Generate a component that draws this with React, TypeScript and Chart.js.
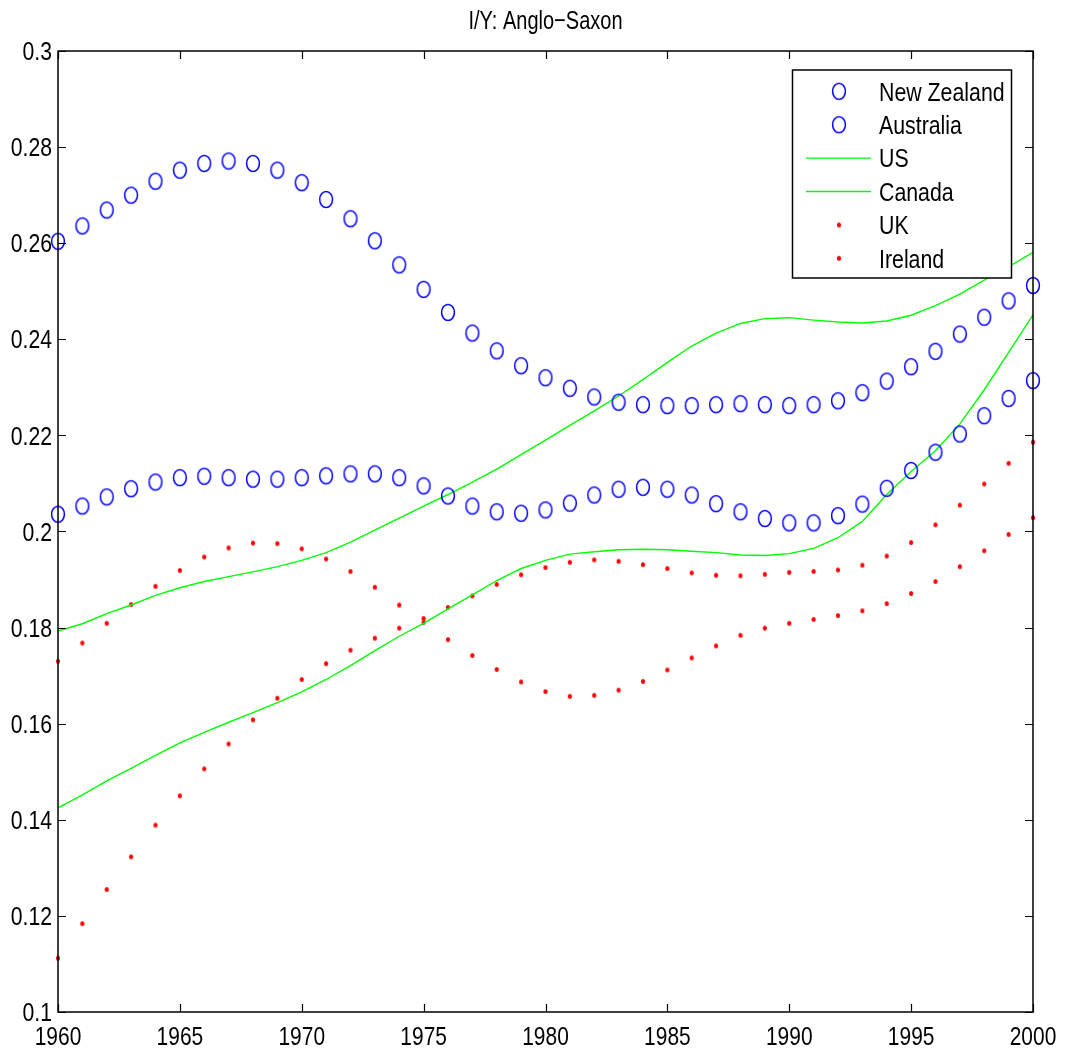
import React, { useEffect, useRef } from "react";
import { Chart, registerables } from "chart.js";

Chart.register(...registerables);

// Investment / output ratios, 1960-2000
const years = [
  1960, 1961, 1962, 1963, 1964, 1965, 1966, 1967, 1968, 1969,
  1970, 1971, 1972, 1973, 1974, 1975, 1976, 1977, 1978, 1979,
  1980, 1981, 1982, 1983, 1984, 1985, 1986, 1987, 1988, 1989,
  1990, 1991, 1992, 1993, 1994, 1995, 1996, 1997, 1998, 1999, 2000,
];

const newZealand = [
  0.2604, 0.2636, 0.2669, 0.27, 0.2729, 0.2752, 0.2766, 0.2771, 0.2766, 0.2752,
  0.2726, 0.2691, 0.2651, 0.2605, 0.2555, 0.2504, 0.2456, 0.2413, 0.2376, 0.2345,
  0.232, 0.2298, 0.228, 0.2269, 0.2264, 0.2262, 0.2262, 0.2264, 0.2266, 0.2264,
  0.2262, 0.2264, 0.2272, 0.2289, 0.2313, 0.2343, 0.2375, 0.2411, 0.2446, 0.248, 0.2512,
];

const australia = [
  0.2036, 0.2053, 0.2072, 0.2089, 0.2103, 0.2112, 0.2115, 0.2112, 0.2109, 0.2109,
  0.2112, 0.2116, 0.212, 0.212, 0.2112, 0.2095, 0.2074, 0.2053, 0.2041, 0.2038,
  0.2045, 0.2059, 0.2076, 0.2088, 0.2092, 0.2088, 0.2076, 0.2058, 0.2041, 0.2027,
  0.2018, 0.2018, 0.2033, 0.2057, 0.209, 0.2127, 0.2165, 0.2203, 0.2241, 0.2277, 0.2314,
];

const us = [
  0.1793, 0.1808, 0.1829, 0.1847, 0.1867, 0.1883, 0.1896, 0.1906, 0.1916, 0.1927,
  0.194, 0.1956, 0.1978, 0.2003, 0.2028, 0.2053, 0.2077, 0.2103, 0.213, 0.216,
  0.219, 0.2221, 0.2251, 0.2282, 0.2316, 0.2352, 0.2386, 0.2413, 0.2433, 0.2443,
  0.2445, 0.244, 0.2436, 0.2434, 0.2438, 0.245, 0.247, 0.2494, 0.2523, 0.2551, 0.2581,
];

const canada = [
  0.1425, 0.1452, 0.1481, 0.1507, 0.1534, 0.156, 0.1582, 0.1603, 0.1623, 0.1644,
  0.1666, 0.1692, 0.1721, 0.1752, 0.1782, 0.1809, 0.1839, 0.1868, 0.1898, 0.1923,
  0.194, 0.1953, 0.1958, 0.1962, 0.1963, 0.1962, 0.1959, 0.1956, 0.1951, 0.195,
  0.1954, 0.1965, 0.1987, 0.2021, 0.2077, 0.2125, 0.2168, 0.2224, 0.2295, 0.2373, 0.2451,
];

const uk = [
  0.173, 0.1768, 0.1809, 0.1848, 0.1886, 0.1919, 0.1947, 0.1966, 0.1976, 0.1975,
  0.1964, 0.1943, 0.1917, 0.1884, 0.1847, 0.1819, 0.1775, 0.1742, 0.1713, 0.1687,
  0.1667, 0.1657, 0.1659, 0.167, 0.1688, 0.1712, 0.1737, 0.1762, 0.1784, 0.1799,
  0.1809, 0.1817, 0.1825, 0.1835, 0.185, 0.1871, 0.1896, 0.1927, 0.196, 0.1994, 0.2029,
];

const ireland = [
  0.1112, 0.1184, 0.1255, 0.1323, 0.1389, 0.145, 0.1506, 0.1558, 0.1608, 0.1653,
  0.1692, 0.1725, 0.1753, 0.1778, 0.1799, 0.1811, 0.1842, 0.1866, 0.189, 0.191,
  0.1925, 0.1936, 0.1941, 0.1938, 0.1931, 0.1923, 0.1914, 0.1909, 0.1908, 0.1911,
  0.1915, 0.1917, 0.192, 0.193, 0.1949, 0.1977, 0.2014, 0.2055, 0.2099, 0.2142, 0.2186,
];

const xTicks = [1960, 1965, 1970, 1975, 1980, 1985, 1990, 1995, 2000];
const xTickLabels = ["1960", "1965", "1970", "1975", "1980", "1985", "1990", "1995", "2000"];
const yTicks = [0.1, 0.12, 0.14, 0.16, 0.18, 0.2, 0.22, 0.24, 0.26, 0.28, 0.3];
const yTickLabels = ["0.1", "0.12", "0.14", "0.16", "0.18", "0.2", "0.22", "0.24", "0.26", "0.28", "0.3"];

const title = "I/Y: Anglo\u2212Saxon";

const FONT = "'Liberation Sans', Arial, Helvetica, sans-serif";
const BLUE = "#0000ff";
const GREEN = "#00ff00";
const RED = "#ff0000";

const toPoints = (values: number[]) => values.map((v, i) => ({ x: years[i], y: v }));

type Kind = "circle" | "line" | "dot";

// Narrow Helvetica look: regular sans compressed horizontally
function narrowText(
  ctx: CanvasRenderingContext2D,
  text: string,
  x: number,
  cy: number,
  align: CanvasTextAlign,
  size: number,
  squeeze: number
) {
  ctx.save();
  ctx.translate(x, cy + 0.358 * size);
  ctx.scale(squeeze, 1);
  ctx.font = `${size}px ${FONT}`;
  ctx.fillStyle = "#000";
  ctx.textAlign = align;
  ctx.textBaseline = "alphabetic";
  ctx.fillText(text, 0, 0);
  ctx.restore();
}

// Marker sprites: slightly tall open ellipses and small filled dots
function makeMarker(kind: "circle" | "dot"): HTMLCanvasElement {
  const c = document.createElement("canvas");
  const w = kind === "circle" ? 18 : 8;
  const h = kind === "circle" ? 21 : 9;
  c.width = w;
  c.height = h;
  const g = c.getContext("2d")!;
  g.beginPath();
  if (kind === "circle") {
    g.ellipse(w / 2, h / 2, 6.4, 8.0, 0, 0, Math.PI * 2);
    g.strokeStyle = BLUE;
    g.lineWidth = 1.5;
    g.stroke();
  } else {
    g.ellipse(w / 2, h / 2, 2.1, 2.6, 0, 0, Math.PI * 2);
    g.fillStyle = RED;
    g.fill();
  }
  return c;
}

const framePlugin = {
  id: "frame",
  afterDatasetsDraw(chart: any) {
    const { ctx, chartArea, scales } = chart;
    const { left, right, top, bottom } = chartArea;
    ctx.save();
    ctx.strokeStyle = "#000";
    ctx.lineWidth = 1.5;
    ctx.strokeRect(left, top, right - left, bottom - top);

    // inward tick marks on all four sides
    const tl = 8;
    ctx.lineWidth = 1.2;
    ctx.beginPath();
    scales.x.ticks.forEach((t: any) => {
      const px = Math.round(scales.x.getPixelForValue(t.value)) + 0.5;
      ctx.moveTo(px, bottom);
      ctx.lineTo(px, bottom - tl);
      ctx.moveTo(px, top);
      ctx.lineTo(px, top + tl);
    });
    scales.y.ticks.forEach((t: any) => {
      const py = Math.round(scales.y.getPixelForValue(t.value)) + 0.5;
      ctx.moveTo(left, py);
      ctx.lineTo(left + tl, py);
      ctx.moveTo(right, py);
      ctx.lineTo(right - tl, py);
    });
    ctx.stroke();

    // tick labels
    scales.x.ticks.forEach((t: any) => {
      const i = xTicks.indexOf(t.value);
      narrowText(ctx, xTickLabels[i], scales.x.getPixelForValue(t.value), 1036, "center", 25.5, 0.82);
    });
    scales.y.ticks.forEach((t: any) => {
      const i = yTicks.findIndex((v) => Math.abs(v - t.value) < 1e-9);
      narrowText(ctx, yTickLabels[i], 52, scales.y.getPixelForValue(t.value), "right", 25.5, 0.83);
    });

    // title
    narrowText(ctx, title, (left + right) / 2, 19.5, "center", 26, 0.77);

    // legend
    const bx = 792.5;
    const by = 70;
    const bw = 219;
    const bh = 208;
    ctx.fillStyle = "#fff";
    ctx.fillRect(bx, by, bw, bh);
    ctx.strokeStyle = "#000";
    ctx.lineWidth = 1.5;
    ctx.strokeRect(bx, by, bw, bh);

    const rowY0 = 91.3;
    const rowStep = 33.4;
    chart.data.datasets.forEach((ds: any, i: number) => {
      const y = rowY0 + i * rowStep;
      const kind: Kind = ds.kind;
      if (kind === "line") {
        ctx.strokeStyle = ds.borderColor;
        ctx.lineWidth = 1.4;
        ctx.beginPath();
        ctx.moveTo(806, y);
        ctx.lineTo(871, y);
        ctx.stroke();
      } else {
        const img = ds.pointStyle as HTMLCanvasElement;
        ctx.drawImage(img, 839 - img.width / 2, y - img.height / 2);
      }
      narrowText(ctx, ds.label, 879, y, "left", 26, 0.82);
    });
    ctx.restore();
  },
};

const circleSet = (label: string, values: number[], sprite: HTMLCanvasElement) => ({
  label,
  kind: "circle",
  data: toPoints(values),
  showLine: false,
  pointStyle: sprite,
  pointRadius: 8,
  borderColor: BLUE,
  backgroundColor: BLUE,
  clip: false,
});

const lineSet = (label: string, values: number[]) => ({
  label,
  kind: "line",
  data: toPoints(values),
  showLine: true,
  pointRadius: 0,
  borderColor: GREEN,
  borderWidth: 1.4,
  tension: 0,
  fill: false,
  clip: false,
});

const dotSet = (label: string, values: number[], sprite: HTMLCanvasElement) => ({
  label,
  kind: "dot",
  data: toPoints(values),
  showLine: false,
  pointStyle: sprite,
  pointRadius: 3,
  borderColor: RED,
  backgroundColor: RED,
  clip: false,
});

export default function App() {
  const canvasRef = useRef<HTMLCanvasElement | null>(null);

  useEffect(() => {
    const canvas = canvasRef.current;
    if (!canvas) return;
    const ring = makeMarker("circle");
    const dot = makeMarker("dot");
    const chart = new Chart(canvas, {
      type: "scatter",
      data: {
        datasets: [
          circleSet("New Zealand", newZealand, ring),
          circleSet("Australia", australia, ring),
          lineSet("US", us),
          lineSet("Canada", canada),
          dotSet("UK", uk, dot),
          dotSet("Ireland", ireland, dot),
        ] as any,
      },
      options: {
        responsive: false,
        animation: false,
        devicePixelRatio: 1,
        layout: { padding: { top: 51, right: 33, left: 0, bottom: 0 } },
        plugins: {
          legend: { display: false },
          title: { display: false },
          tooltip: { enabled: false },
        },
        scales: {
          x: {
            type: "linear",
            min: 1960,
            max: 2000,
            grid: { display: false, drawTicks: false },
            border: { display: false },
            afterBuildTicks: (scale: any) => {
              scale.ticks = xTicks.map((v) => ({ value: v }));
            },
            afterFit: (scale: any) => {
              scale.height = 44;
            },
            ticks: { display: false, autoSkip: false },
          },
          y: {
            type: "linear",
            min: 0.1,
            max: 0.3,
            grid: { display: false, drawTicks: false },
            border: { display: false },
            afterBuildTicks: (scale: any) => {
              scale.ticks = yTicks.map((v) => ({ value: v }));
            },
            afterFit: (scale: any) => {
              scale.width = 58;
            },
            ticks: { display: false, autoSkip: false },
          },
        },
      },
      plugins: [framePlugin],
    } as any);
    return () => chart.destroy();
  }, []);

  return (
    <div style={{ position: "fixed", left: 0, top: 0, width: 1066, height: 1056, background: "#fff" }}>
      <canvas ref={canvasRef} width={1066} height={1056} style={{ display: "block", width: 1066, height: 1056 }} />
    </div>
  );
}
